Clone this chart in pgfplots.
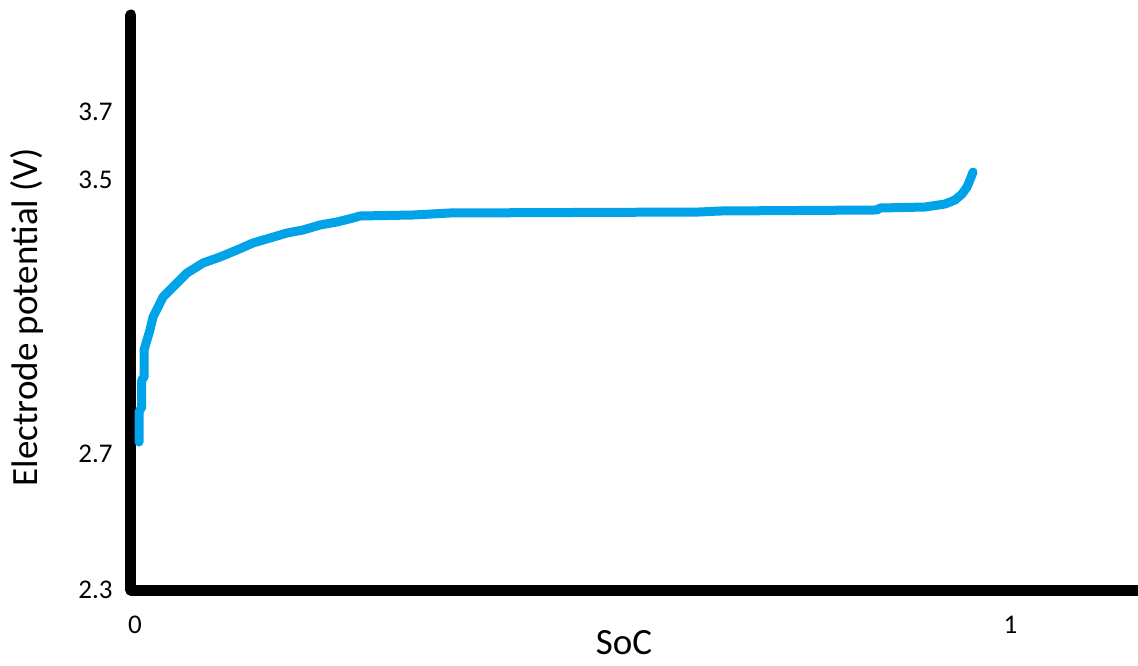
\documentclass[border=0pt]{standalone}
\usepackage{fontspec}
\setmainfont{Carlito}
\usepackage{pgfplots}
\pgfplotsset{compat=1.18}
\definecolor{curveblue}{RGB}{0,162,232}
\begin{document}
\begin{tikzpicture}
\begin{axis}[
  scale only axis,
  width=503.5pt, height=287.5pt,
  xmin=-0.00457, xmax=1.1456,
  ymin=2.3, ymax=3.9842,
  axis lines=left,
  axis line style={line width=5.5pt, line cap=round, -},
  xtick={0,1}, ytick={2.3,2.7,3.5,3.7},
  major tick length=0pt,
  /pgf/number format/assume math mode=true,
  ticklabel style={font=\fontsize{13.5}{15}\selectfont, inner sep=0pt},
  xticklabel style={anchor=base, yshift=-21.5pt},
  yticklabel style={anchor=east, xshift=-9pt},
  xlabel={SoC},
  ylabel={Electrode potential (V)},
  label style={font=\fontsize{18.5}{22}\selectfont, inner sep=0pt},
  xlabel style={at={(axis description cs:0.4896,-0.113)}, anchor=base},
  ylabel style={at={(axis description cs:-0.0933,0.4748)}, anchor=base, rotate=0},
  clip=false,
]
\addplot[color=curveblue, line width=4.5pt, line join=round, line cap=round] coordinates {
(0.0046,2.7335) (0.0046,2.8214) (0.0077,2.836) (0.0077,2.915)
(0.0103,2.924) (0.0103,3.003) (0.0171,3.0616) (0.0206,3.0996)
(0.032,3.158) (0.0434,3.1875) (0.0594,3.2285) (0.0777,3.2578)
(0.0971,3.2754) (0.1165,3.2959) (0.1348,3.3164) (0.1542,3.331)
(0.1736,3.3457) (0.1919,3.3545) (0.2113,3.3691) (0.2307,3.3779)
(0.2490,3.3896) (0.2570,3.3955) (0.3175,3.3984) (0.3598,3.4043)
(0.6454,3.4072) (0.6682,3.4101) (0.8475,3.4131) (0.8510,3.4189)
(0.9024,3.4218) (0.9252,3.4306) (0.9366,3.4424) (0.9446,3.4599)
(0.9503,3.4804) (0.9537,3.5009) (0.9572,3.5244)
};
\end{axis}
\pgfresetboundingbox
\path[use as bounding box] (-65.5pt,-37.5pt) rectangle (503.5pt,295pt);
\end{tikzpicture}
\end{document}
